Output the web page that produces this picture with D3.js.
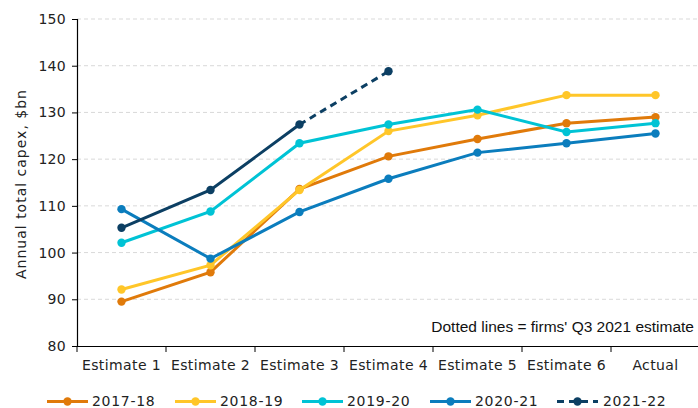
<!DOCTYPE html>
<html><head><meta charset="utf-8">
<script src="https://cdn.jsdelivr.net/npm/d3@7"></script>
<style>body{margin:0;background:#fff}svg{display:block}</style>
</head><body>
<script>
const categories = ["Estimate 1","Estimate 2","Estimate 3","Estimate 4","Estimate 5","Estimate 6","Actual"];
const s2017 = [89.5, 95.8, 113.6, 120.6, 124.3, 127.7, 129.0];
const s2018 = [92.1, 97.3, 113.4, 126.0, 129.4, 133.7, 133.7];
const s2019 = [102.1, 108.8, 123.4, 127.4, 130.6, 125.8, 127.7];
const s2020 = [109.3, 98.7, 108.7, 115.8, 121.4, 123.4, 125.5];
const s2021 = [105.3, 113.4, 127.4, 138.8, null, null, null];
const seriesNames = ["2017-18","2018-19","2019-20","2020-21","2021-22"];
const yTicks = [80, 90, 100, 110, 120, 130, 140, 150];
const colors = ["#E07A0A","#FFC629","#00C3D5","#0B7DBD","#0C3F63"];

const W = 698, H = 408;
const svg = d3.select("body").append("svg").attr("width", W).attr("height", H);
const x = d3.scaleBand().domain(categories).range([77, 700]);
const y = d3.scaleLinear().domain([80, 150]).range([346, 19]);
const font = "'DejaVu Sans', Verdana, sans-serif";

// gridlines
svg.append("g").selectAll("line").data(yTicks.filter(d => d > 80)).join("line")
  .attr("x1", 77).attr("x2", 700).attr("y1", d => y(d)).attr("y2", d => y(d))
  .attr("stroke", "#d9d9d9").attr("stroke-dasharray", "4,3").attr("stroke-width", 1);

// y axis
const ya = svg.append("g").attr("transform", "translate(77,0)")
  .call(d3.axisLeft(y).tickValues(yTicks).tickSize(5).tickPadding(6));
ya.select(".domain").attr("stroke", "#000").attr("stroke-width", 1.2);
ya.selectAll(".tick line").attr("stroke", "#000");
ya.selectAll("text").attr("font-family", font).attr("font-size", 14).attr("fill", "#222")
  .attr("letter-spacing", 0.3);

// x axis
const xa = svg.append("g").attr("transform", "translate(0,346)")
  .call(d3.axisBottom(x).tickSize(0).tickPadding(14));
xa.select(".domain").attr("stroke", "#000").attr("stroke-width", 1.2);
xa.selectAll("text").attr("font-family", font).attr("font-size", 14).attr("fill", "#222")
  .attr("letter-spacing", 0.4);
xa.selectAll(".bt").data(categories).join("line").attr("class","bt")
  .attr("x1", d => x(d)).attr("x2", d => x(d)).attr("y1", 0).attr("y2", 6)
  .attr("stroke", "#000");

// y label
svg.append("text").attr("transform", "translate(26,184) rotate(-90)")
  .attr("text-anchor", "middle").attr("font-family", font).attr("font-size", 14)
  .attr("letter-spacing", 1.0)
  .attr("fill", "#222").text("Annual total capex, $bn");

// annotation
svg.append("text").attr("x", 694).attr("y", 332).attr("text-anchor", "end")
  .attr("font-family", "'Liberation Sans Narrow', 'Arial Narrow', sans-serif")
  .attr("font-size", 15.5).attr("fill", "#111").text("Dotted lines = firms' Q3 2021 estimate");

const cx = d => x(d) + x.bandwidth() / 2;
const allSeries = [s2017, s2018, s2019, s2020, s2021];
const line = d3.line().defined(d => d.v != null).x(d => cx(d.c)).y(d => y(d.v));

allSeries.forEach((vals, i) => {
  const pts = vals.map((v, j) => ({c: categories[j], v}));
  const g = svg.append("g");
  if (i === 4) {
    g.append("path").attr("d", line(pts.slice(0, 3))).attr("fill", "none")
      .attr("stroke", colors[i]).attr("stroke-width", 3);
    g.append("path").attr("d", line(pts.slice(2, 4))).attr("fill", "none")
      .attr("stroke", colors[i]).attr("stroke-width", 3).attr("stroke-dasharray", "7,5");
  } else {
    g.append("path").attr("d", line(pts)).attr("fill", "none")
      .attr("stroke", colors[i]).attr("stroke-width", 3);
  }
  g.selectAll("circle").data(pts.filter(d => d.v != null)).join("circle")
    .attr("cx", d => cx(d.c)).attr("cy", d => y(d.v)).attr("r", 4.2)
    .attr("fill", colors[i]);
});

// legend
const legX = [47, 175, 302, 430, 557];
const ly = 401.5;
seriesNames.forEach((n, i) => {
  const g = svg.append("g");
  const l = g.append("line").attr("x1", legX[i]).attr("x2", legX[i] + 41)
    .attr("y1", ly).attr("y2", ly).attr("stroke", colors[i]).attr("stroke-width", 3);
  if (i === 4) l.attr("stroke-dasharray", "7,5");
  g.append("circle").attr("cx", legX[i] + 20.5).attr("cy", ly).attr("r", 4.2).attr("fill", colors[i]);
  g.append("text").attr("x", legX[i] + (i === 4 ? 46 : 45)).attr("y", 406)
    .attr("font-family", font).attr("font-size", 14).attr("letter-spacing", 0.7)
    .attr("fill", "#222").text(n);
});
</script>
</body></html>
